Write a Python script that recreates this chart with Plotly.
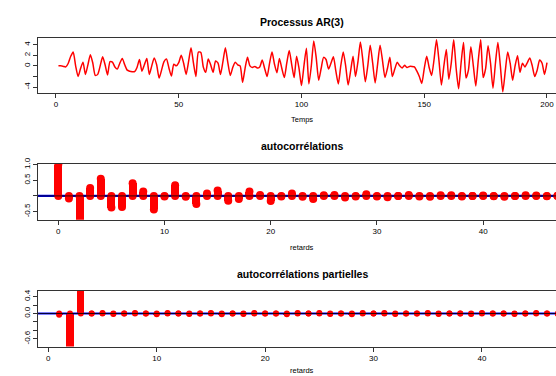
import plotly.graph_objects as go

# ---- data ----
temps = list(range(1, 201))
serie = [0.0, 0.0, -0.1, -0.2, 0.5, 1.8, 2.6, 0.0, -2.0, -0.5,
         0.7, -1.6, 0.2, 2.1, 0.5, -1.8, -1.6, 0.0, 1.7, 0.2,
         -1.7, 0.8, 0.7, -0.2, -0.6, 0.5, 1.4, 0.2, -0.8, -1.0,
         -1.1, -1.1, -0.3, 1.2, -1.0, 0.2, 1.4, -1.6, 0.0, 1.5,
         0.2, -2.3, -0.8, 0.8, 1.3, -0.4, -1.9, 0.3, 0.0, 0.6,
         2.0, 0.5, -1.6, 0.8, 3.4, 0.5, -2.0, 2.6, 2.5, -0.2,
         -1.2, 1.3, 0.2, -1.2, 0.9, 0.5, -1.6, 0.8, 3.4, 0.6,
         -1.8, -0.3, 0.7, 0.2, 0.0, -3.1, -0.5, 1.6, 0.0, -0.3,
         -0.1, -0.4, -0.2, 1.1, -0.5, -2.0, 0.5, 2.6, 0.3, -1.3,
         1.4, -0.5, -2.2, 0.5, 2.9, 0.3, -2.2, 1.8, -0.5, -3.7,
         0.0, 3.3, -3.4, 0.0, 4.7, 1.5, -2.7, -0.5, 1.6, 1.2,
         -0.6, 0.5, 1.7, -1.0, -3.4, 0.0, 2.6, 0.0, -3.6, -1.0,
         1.8, -2.0, 0.8, 4.5, 1.0, -3.0, 0.0, 3.9, 0.5, -3.2,
         0.3, 3.9, 1.0, -2.2, -0.5, 1.6, -2.0, -0.6, 0.7, 0.0,
         -0.4, 0.1, -0.3, -0.1, -0.1, -0.2, -1.0, -2.0, -3.3, -0.5,
         1.8, -0.3, -1.8, 1.2, 4.9, 1.0, -3.6, 0.0, 3.1, -2.5,
         0.5, 4.9, -0.5, -4.3, 0.5, 4.4, -2.3, -0.8, 3.6, 0.0,
         -3.8, 1.0, 4.9, -2.2, -0.5, 3.8, 0.5, -4.2, 0.5, 4.4,
         0.0, -4.9, -1.0, 2.6, 0.5, -2.7, 0.0, 1.9, -1.2, 0.5,
         -0.2, 0.6, 1.5, 0.0, -2.0, -0.8, 1.1, 0.5, -1.6, 0.6]

acf_lags = list(range(0, 49))
acf_vals = [1.0, -0.08, -0.9, 0.25, 0.55, -0.37, -0.35, 0.4, 0.14, -0.43,
            -0.02, 0.34, -0.03, -0.26, 0.08, 0.17, -0.15, -0.1, 0.14, 0.03,
            -0.16, -0.02, 0.08, -0.03, -0.1, 0.02, 0.03, -0.05, -0.02, 0.05,
            -0.02, -0.04, 0.0, 0.03, -0.02, -0.03, 0.02, 0.02, -0.02, 0.0,
            0.01, -0.01, -0.03, 0.0, 0.02, 0.01, -0.01, 0.0, 0.0]

pacf_lags = list(range(1, 49))
pacf_vals = [-0.03, -0.9, 0.6, 0.0, 0.01, -0.01, 0.0, 0.01, 0.0, -0.02,
             0.01, 0.0, -0.01, 0.0, 0.01, -0.02, 0.0, -0.01, 0.01, 0.0,
             0.0, -0.02, 0.01, 0.0, 0.01, -0.01, 0.0, -0.02, 0.01, 0.0,
             0.01, -0.01, 0.0, 0.0, 0.01, -0.01, 0.0, 0.0, -0.01, 0.01,
             0.0, 0.0, -0.01, 0.0, 0.01, 0.0, -0.01, 0.0]

titres = ["Processus AR(3)", "autocorrélations", "autocorrélations partielles"]
xlabels = ["Temps", "retards", "retards"]

W, H = 556, 376
RED = "#ff0000"
BLUE = "#0000ff"
FONT = "Liberation Sans, Arial, sans-serif"

fig = go.Figure()

# panel 1 : series
fig.add_trace(go.Scatter(x=temps, y=serie, mode="lines",
                         line=dict(color=RED, width=1.5, shape="spline", smoothing=0.6),
                         xaxis="x", yaxis="y", showlegend=False))

def stems(lags, vals, xa, ya, width, msize):
    fig.add_trace(go.Scatter(x=[min(lags) - 5, max(lags) + 5], y=[0, 0], mode="lines",
                             line=dict(color=BLUE, width=2.2),
                             xaxis=xa, yaxis=ya, showlegend=False))
    fig.add_trace(go.Bar(x=lags, y=vals, width=width, marker=dict(color=RED, line=dict(width=0)),
                         xaxis=xa, yaxis=ya, showlegend=False))
    fig.add_trace(go.Scatter(x=lags + lags, y=vals + [0] * len(lags), mode="markers",
                             marker=dict(color=RED, size=msize, line=dict(width=0)),
                             xaxis=xa, yaxis=ya, showlegend=False))
    fig.add_trace(go.Scatter(x=[min(lags) - 5, max(lags) + 5], y=[0, 0], mode="lines",
                             line=dict(color="black", width=0.8),
                             xaxis=xa, yaxis=ya, showlegend=False))

# panel 2 : ACF, panel 3 : PACF
stems(acf_lags, acf_vals, "x2", "y2", 0.75, 8)
stems(pacf_lags, pacf_vals, "x3", "y3", 0.65, 6)

def py(px):
    return 1 - px / H

left = 38 / W
axcommon = dict(showgrid=False, zeroline=False, showline=True, linecolor="#333333",
                linewidth=1, ticks="outside", ticklen=4, tickcolor="#333333",
                tickfont=dict(family=FONT, size=8, color="black"))

fig.update_layout(
    width=W, height=H, margin=dict(l=0, r=0, t=0, b=0),
    paper_bgcolor="white", plot_bgcolor="white", bargap=0,
    xaxis=dict(domain=[left, 1], range=[-7.33, 203.67], tickvals=[0, 50, 100, 150, 200],
               anchor="y", mirror=True, **axcommon),
    yaxis=dict(domain=[py(87.3), py(31.7)], range=[-5.04, 5.22], tickvals=[-4, -2, 0, 2, 4],
               ticktext=["-4", "", "0", "2", "4"], tickangle=-90, anchor="x", mirror=False, **axcommon),
    xaxis2=dict(domain=[left, 1], range=[-1.91, 46.86], tickvals=[0, 10, 20, 30, 40],
                anchor="y2", mirror=True, **axcommon),
    yaxis2=dict(domain=[py(216.7), py(160)], range=[-0.756, 1.016], tickvals=[-0.5, 0, 0.5, 1.0],
                ticktext=["-0.5", "", "0.5", "1.0"], tickangle=-90, anchor="x2", mirror=False, **axcommon),
    xaxis3=dict(domain=[left, 1], range=[-0.95, 46.83], tickvals=[0, 10, 20, 30, 40],
                anchor="y3", mirror=True, **axcommon),
    yaxis3=dict(domain=[py(346), py(289.3)], range=[-0.784, 0.535],
                tickvals=[-0.6, -0.4, -0.2, 0, 0.2, 0.4],
                ticktext=["-0.6", "", "", "0.0", "", "0.4"], tickangle=-90, anchor="x3",
                mirror=False, **axcommon),
)

ann = []
for t, ypx in zip(titres, [15, 142, 272]):
    ann.append(dict(text="<b>" + t + "</b>", x=302 / W, y=py(ypx), xref="paper", yref="paper",
                    showarrow=False, xanchor="center", yanchor="middle",
                    font=dict(family=FONT, size=10.5, color="black")))
for t, ypx in zip(xlabels, [115, 245, 370]):
    ann.append(dict(text=t, x=302 / W, y=py(ypx), xref="paper", yref="paper",
                    showarrow=False, xanchor="center", yanchor="middle",
                    font=dict(family=FONT, size=7.5, color="black")))
fig.update_layout(annotations=ann)

fig.write_html("out.html")
